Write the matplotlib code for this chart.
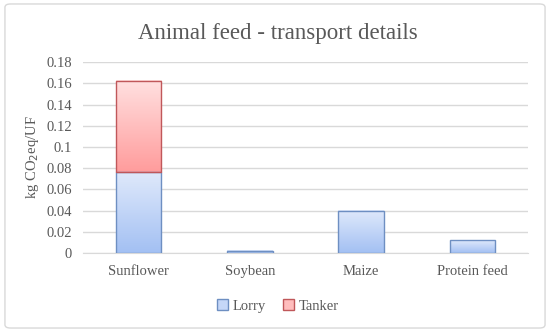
import matplotlib.pyplot as plt
import numpy as np
from matplotlib.patches import Patch, FancyBboxPatch
from matplotlib.colors import LinearSegmentedColormap

categories = ["Sunflower", "Soybean", "Maize", "Protein feed"]
lorry = [0.076, 0.002, 0.040, 0.012]
tanker = [0.086, 0.0, 0.0, 0.0]
yticks = [0, 0.02, 0.04, 0.06, 0.08, 0.1, 0.12, 0.14, 0.16, 0.18]
ytick_labels = ["0", "0.02", "0.04", "0.06", "0.08", "0.1", "0.12", "0.14", "0.16", "0.18"]

plt.rcParams["font.family"] = ["Liberation Serif", "DejaVu Serif"]
text_col = "#595959"

blue_cmap = LinearSegmentedColormap.from_list("blue", ["#a3c0f3", "#dfe9fb"])
red_cmap = LinearSegmentedColormap.from_list("red", ["#ff9c9c", "#ffe0e0"])
grad = np.linspace(0, 1, 128).reshape(-1, 1)

fig = plt.figure(figsize=(5.5, 3.32), dpi=100)
ax = fig.add_axes([0.151, 0.238, 0.809, 0.575])

# chart border
fig.patches.append(FancyBboxPatch((0.009, 0.012), 0.982, 0.976, boxstyle="round,pad=0,rounding_size=0.01",
                                  transform=fig.transFigure, facecolor="white", edgecolor="#d9d9d9",
                                  linewidth=1, zorder=-10))

x = np.arange(len(categories))
width = 0.41


def gradient_bars(xs, heights, bottoms, cmap, edge):
    bars = ax.bar(xs, heights, width, bottom=bottoms, facecolor="none", edgecolor=edge,
                  linewidth=1, zorder=3)
    for b, h in zip(bars, heights):
        if h <= 0:
            b.set_visible(False)
            continue
        x0, y0 = b.get_x(), b.get_y()
        ax.imshow(grad, cmap=cmap, origin="lower", aspect="auto",
                  extent=[x0, x0 + b.get_width(), y0, y0 + h], zorder=2)
    return bars


gradient_bars(x, lorry, 0, blue_cmap, "#6e8fc2")
gradient_bars(x, tanker, lorry, red_cmap, "#c0575a")

ax.set_xlim(-0.5, len(categories) - 0.5)
ax.set_ylim(0, 0.18)
ax.set_yticks(yticks)
ax.set_yticklabels(ytick_labels)
ax.set_xticks(x)
ax.set_xticklabels(categories)
ax.tick_params(axis="both", length=0, colors=text_col, labelsize=10.5)
ax.tick_params(axis="x", pad=9)
ax.tick_params(axis="y", pad=8)
ax.grid(axis="y", color="#d9d9d9", linewidth=1)
ax.set_axisbelow(True)
for s in ["top", "right", "left"]:
    ax.spines[s].set_visible(False)
ax.spines["bottom"].set_color("#d9d9d9")
ax.set_ylabel("kg CO$_2$eq/UF", color=text_col, fontsize=10.5, labelpad=4)

fig.text(0.505, 0.9, "Animal feed - transport details", ha="center", va="center",
         fontsize=16.5, color=text_col)

handles = [Patch(facecolor="#c5d7f8", edgecolor="#6e8fc2", label="Lorry"),
           Patch(facecolor="#ffbdbd", edgecolor="#c0575a", label="Tanker")]
fig.legend(handles=handles, loc="center", bbox_to_anchor=(0.505, 0.078), ncol=2, frameon=False,
           fontsize=10.5, labelcolor=text_col, handlelength=0.75, handleheight=0.75,
           handletextpad=0.3, columnspacing=1.2)

fig.savefig("out.png", dpi=100)
